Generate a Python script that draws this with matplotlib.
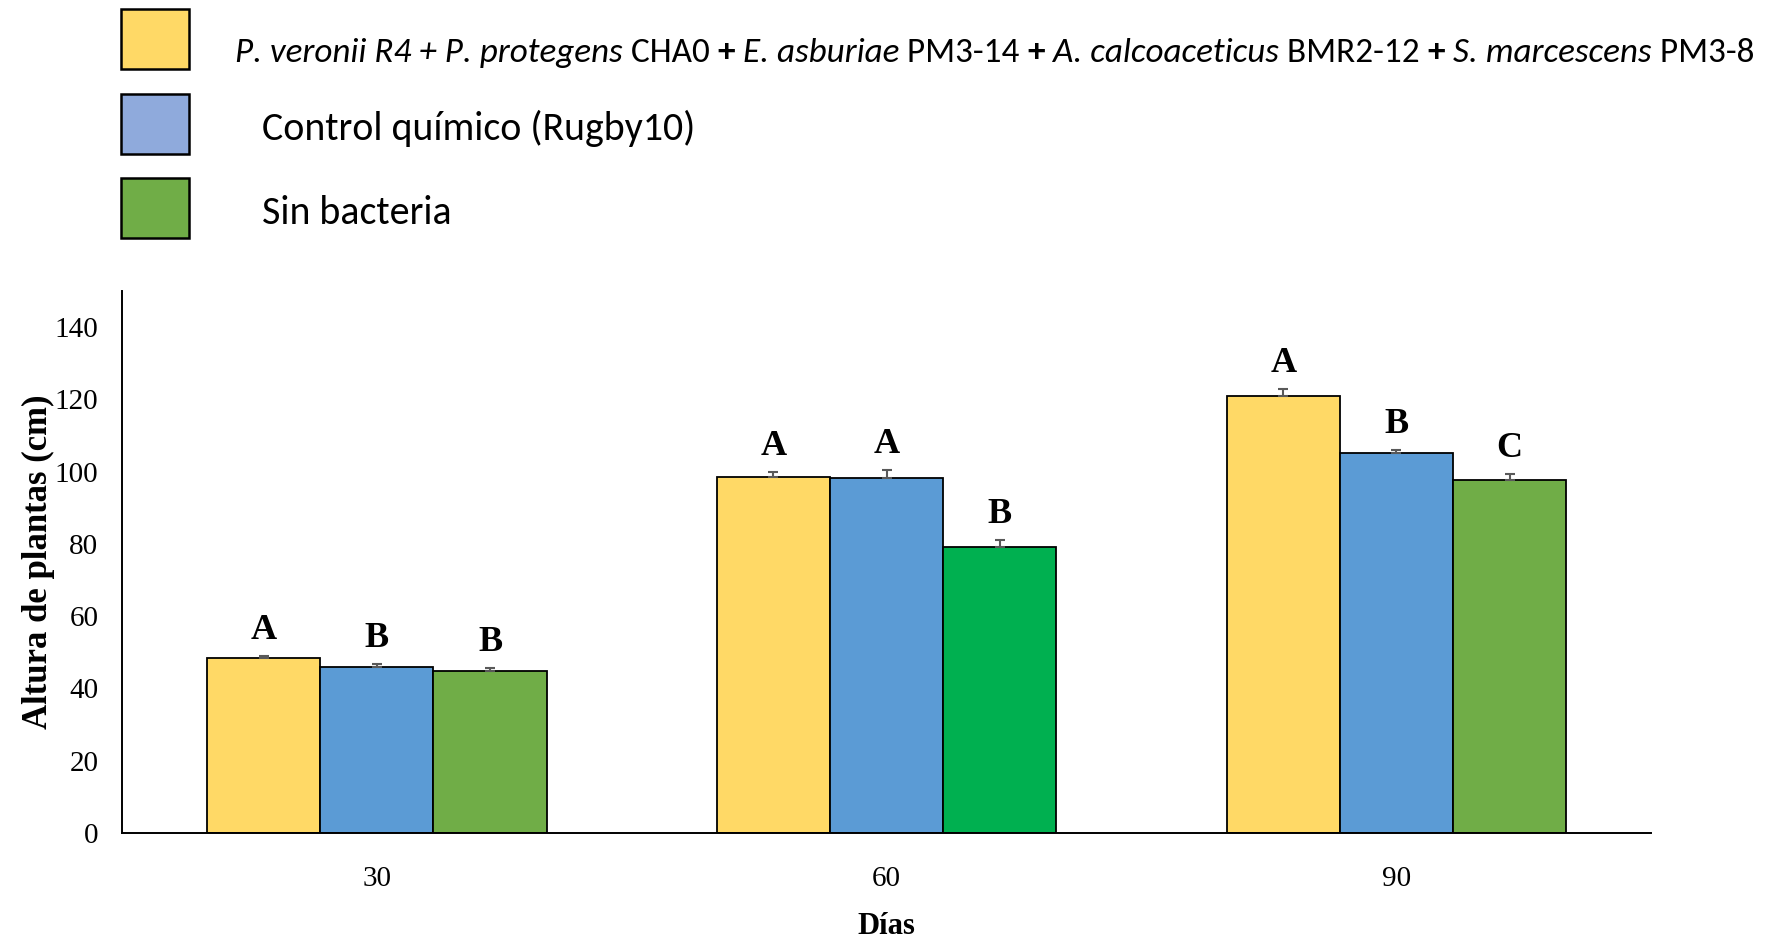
import matplotlib
matplotlib.use("Agg")
import matplotlib.pyplot as plt
from matplotlib.patches import Rectangle
import numpy as np

# data
days = ["30", "60", "90"]
consorcio = [48.3, 98.6, 120.8]
consorcio_err = [0.7, 1.2, 2.0]
quimico = [45.8, 98.3, 105.1]
quimico_err = [0.9, 2.2, 0.8]
sin_bacteria = [44.9, 79.2, 97.6]
sin_bacteria_err = [0.6, 1.8, 1.8]

letters_consorcio = ["A", "A", "A"]
letters_quimico = ["B", "A", "B"]
letters_sin = ["B", "B", "C"]

bar_colors = ["#FFD966", "#5B9BD5", "#70AD47"]
sin_colors = ["#70AD47", "#00B050", "#70AD47"]  # day 60 bar is a brighter green
legend_colors = ["#FFD966", "#8FAADC", "#70AD47"]

# first legend entry mixes italic species names and upright strain codes
label_parts = [
    ("P. veronii R4 + P. protegens", "italic", "normal"),
    (" CHA0 ", "normal", "normal"),
    ("+", "normal", "bold"),
    (" E. asburiae", "italic", "normal"),
    (" PM3-14 ", "normal", "normal"),
    ("+", "normal", "bold"),
    (" A. calcoaceticus", "italic", "normal"),
    (" BMR2-12 ", "normal", "normal"),
    ("+", "normal", "bold"),
    (" S. marcescens", "italic", "normal"),
    (" PM3-8", "normal", "normal"),
]
other_labels = ["Control químico (Rugby10)", "Sin bacteria"]

SERIF = "Liberation Serif"
SANS = ["Carlito", "DejaVu Sans"]

fig = plt.figure(figsize=(17.68, 9.38), dpi=100)
ax = fig.add_axes([0.069, 0.112, 0.865, 0.578])

x = np.arange(len(days))
w = 0.222
series = [
    (consorcio, consorcio_err, letters_consorcio, [bar_colors[0]] * 3),
    (quimico, quimico_err, letters_quimico, [bar_colors[1]] * 3),
    (sin_bacteria, sin_bacteria_err, letters_sin, sin_colors),
]
for i, (vals, errs, lets, cols) in enumerate(series):
    xs = x + (i - 1) * w
    ax.bar(xs, vals, width=w, color=cols, edgecolor="black", linewidth=1.3, zorder=2)
    ax.errorbar(xs, vals, yerr=[[0] * 3, errs], fmt="none", ecolor="#595959",
                elinewidth=1.5, capsize=3.6, capthick=1.5, zorder=3)
    for xi, v, e, l in zip(xs, vals, errs, lets):
        ax.annotate(l, (xi, v + e), xytext=(0, 6.5), textcoords="offset points",
                    ha="center", va="bottom", fontsize=26, fontweight="bold",
                    family=SERIF)

ax.set_xlim(-0.5, 2.5)
ax.set_ylim(0, 150)
ax.set_yticks(range(0, 141, 20))
ax.set_xticks(x)
ax.set_xticklabels(days)
ax.tick_params(length=0, labelsize=21)
ax.tick_params(axis="x", pad=24)
ax.tick_params(axis="y", pad=17)
for lab in ax.get_xticklabels() + ax.get_yticklabels():
    lab.set_family(SERIF)
for s in ["top", "right"]:
    ax.spines[s].set_visible(False)
for s in ["left", "bottom"]:
    ax.spines[s].set_linewidth(1.4)
ax.set_ylabel("Altura de plantas (cm)", fontsize=25, fontweight="bold", family=SERIF, labelpad=0)
ax.set_xlabel("Días", fontsize=22, fontweight="bold", family=SERIF, labelpad=14)

# hand-made legend at the top
W, H = fig.bbox.width, fig.bbox.height
box_y = [9, 94, 178]
for c, y0 in zip(legend_colors, box_y):
    fig.add_artist(Rectangle((121 / W, 1 - (y0 + 60) / H), 68 / W, 60 / H,
                             transform=fig.transFigure, facecolor=c,
                             edgecolor="black", linewidth=1.8))

fig.canvas.draw()
renderer = fig.canvas.get_renderer()

# measure at a base size, then scale so the line spans the reference width
base = 20
texts = [fig.text(0, 0, t, fontsize=base, style=s, fontweight=fw, family=SANS)
         for t, s, fw in label_parts]
total = sum(t.get_window_extent(renderer).width for t in texts)
size = base * 1518 / total
xpos = 235
for t in texts:
    t.set_fontsize(size)
    t.set_position((xpos / W, 1 - 62 / H))
    t.set_va("baseline")
    xpos += t.get_window_extent(renderer).width

ctrl = fig.text(262 / W, 1 - 140 / H, other_labels[0], fontsize=base, family=SANS, va="baseline")
size2 = base * 434 / ctrl.get_window_extent(renderer).width
ctrl.set_fontsize(size2)
fig.text(262 / W, 1 - 224 / H, other_labels[1], fontsize=size2, family=SANS, va="baseline")

fig.savefig("out.png", dpi=100)
